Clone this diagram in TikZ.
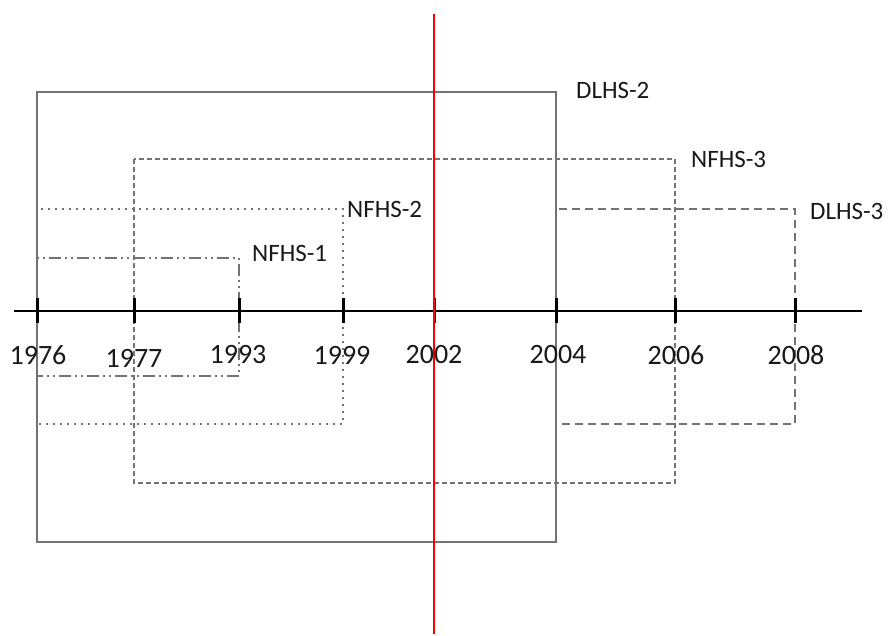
\documentclass[tikz,border=0pt]{standalone}
\usepackage{fontspec}
\setmainfont{Carlito}
\begin{document}
\begin{tikzpicture}[x=1pt,y=-1pt,
  frame/.style={draw=black!55,line width=1.3pt},
  lbl/.style={inner sep=0pt,anchor=west,font=\fontsize{25}{30}\selectfont,text=black!90},
  yr/.style={inner sep=0pt,font=\fontsize{28}{32}\selectfont,text=black!90},
  tick/.style={draw=black,line width=3pt}]
\useasboundingbox (0,0) rectangle (893,636);
% survey windows
\draw[frame] (37,92) rectangle (556,542);
\draw[frame,dash pattern=on 5pt off 3pt] (134,159) rectangle (675,483);
\draw[frame,dash pattern=on 2pt off 5pt] (37,209) rectangle (343,424);
\draw[frame,dash pattern=on 12pt off 4pt on 2pt off 4pt on 2pt off 4pt] (37,258) rectangle (239,376);
\draw[frame,dash pattern=on 8pt off 5pt] (556,209) rectangle (795,424);
% axis
\coordinate (axL) at (14,311);
\coordinate (axR) at (862,311);
\draw[black,line width=2.6pt] (axL) -- (axR);
\foreach \x in {37,134,239,343,434,556,675,795}{
  \draw[tick] (\x,298) -- (\x,323);
}
% red line
\coordinate (rT) at (434,14);
\coordinate (rB) at (434,634);
\draw[red,line width=2.8pt] (rT) -- (rB);
% year labels
\node[yr] (y1976) at (38,355) {1976};
\node[yr] (y1977) at (134,358) {1977};
\node[yr] (y1993) at (238,355) {1993};
\node[yr] (y1999) at (342,355) {1999};
\node[yr] (y2002) at (434,355) {2002};
\node[yr] (y2004) at (558,355) {2004};
\node[yr] (y2006) at (676,355) {2006};
\node[yr] (y2008) at (796,355) {2008};
% survey labels
\node[lbl] (dlhs2) at (576,90) {DLHS-2};
\node[lbl] (nfhs3) at (691,159) {NFHS-3};
\node[lbl] (dlhs3) at (810,211) {DLHS-3};
\node[lbl] (nfhs2) at (347,209) {NFHS-2};
\node[lbl] (nfhs1) at (252,253) {NFHS-1};
\end{tikzpicture}
\end{document}
